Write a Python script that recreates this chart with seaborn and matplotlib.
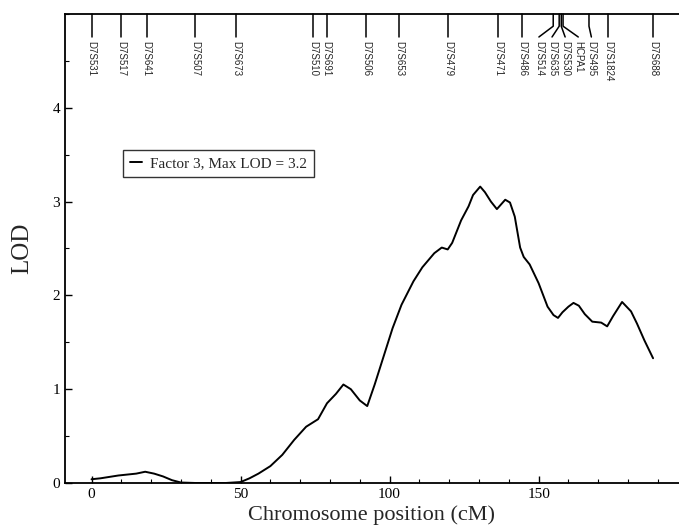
import numpy as np
import pandas as pd
import matplotlib
matplotlib.use("Agg")
import matplotlib.pyplot as plt
import matplotlib.transforms as mtransforms
from matplotlib.ticker import MultipleLocator
import seaborn as sns

# LOD curve
position_cm = [0, 3, 6, 9, 12, 15, 18, 21, 24, 27, 30, 35, 40, 45, 50, 53, 56, 60,
               64, 68, 72, 76, 79, 82, 84.5, 87, 90, 92.5, 95, 98, 101, 104, 108,
               111, 115, 117.5, 119.5, 121, 124, 126.5, 128, 130.4, 132, 134, 136,
               138.8, 140.4, 142, 143.8, 145, 147, 150, 153, 155, 156.5, 158, 160,
               161.7, 163.5, 165.5, 168, 171, 173, 175, 178, 181, 183, 185.5, 188.4]
lod = [0.04, 0.05, 0.065, 0.08, 0.09, 0.10, 0.12, 0.10, 0.07, 0.03, 0.005, 0, 0, 0,
       0.01, 0.05, 0.10, 0.18, 0.30, 0.46, 0.60, 0.68, 0.85, 0.95, 1.05, 1.00, 0.88,
       0.82, 1.05, 1.35, 1.65, 1.90, 2.15, 2.30, 2.45, 2.51, 2.49, 2.56, 2.80, 2.95,
       3.07, 3.16, 3.10, 3.00, 2.92, 3.02, 2.99, 2.84, 2.51, 2.41, 2.33, 2.13, 1.88,
       1.79, 1.76, 1.82, 1.88, 1.92, 1.89, 1.80, 1.72, 1.71, 1.67, 1.78, 1.93, 1.83,
       1.70, 1.52, 1.33]

# marker map along the top
marker_names = ["D7S531", "D7S517", "D7S641", "D7S507", "D7S673", "D7S510",
                "D7S691", "D7S506", "D7S653", "D7S479", "D7S471", "D7S486",
                "D7S514", "D7S635", "D7S530", "HCPA1", "D7S495", "D7S1824", "D7S688"]
marker_cm = [0, 9.9, 18.5, 34.7, 48.4, 74.3, 78.9, 92.1, 103.2, 119.6, 136.4,
             144.5, 154.9, 156.9, 157.6, 158.2, 166.9, 173.3, 188.4]

legend_label = "Factor 3, Max LOD = 3.2"

df = pd.DataFrame({"pos": position_cm, "lod": lod})

sns.set_theme(style="ticks")
plt.rcParams["font.family"] = ["Liberation Serif", "DejaVu Serif"]

fig = plt.figure(figsize=(6.79, 5.30), dpi=100)
ax = fig.add_axes([65 / 679, 47 / 530, 614 / 679, 469 / 530])

sns.lineplot(data=df, x="pos", y="lod", color="black", linewidth=1.4,
             label=legend_label, ax=ax)

ax.set_xlim(-8.9, 197.1)
ax.set_ylim(0, 5)
ax.set_xticks([0, 50, 100, 150])
ax.set_yticks([0, 1, 2, 3, 4])
ax.xaxis.set_minor_locator(MultipleLocator(10))
ax.yaxis.set_minor_locator(MultipleLocator(0.5))
ax.tick_params(which="both", direction="in", top=False, right=False,
               colors="black", labelsize=11)
ax.tick_params(which="major", length=5, width=1)
ax.tick_params(which="minor", length=3, width=0.8)
for s in ["left", "bottom", "top"]:
    ax.spines[s].set_color("black")
    ax.spines[s].set_linewidth(1.3)
ax.spines["right"].set_visible(False)

ax.set_xlabel("Chromosome position (cM)", fontsize=16, labelpad=3)
ax.set_ylabel("LOD", fontsize=18, labelpad=14)

leg = ax.legend(loc="upper left", bbox_to_anchor=(0.082, 0.727), frameon=True,
                fancybox=False, edgecolor="black", fontsize=11, handlelength=0.8,
                handletextpad=0.5, borderpad=0.45)
leg.get_frame().set_linewidth(1.0)

# spread crowded marker labels apart
gap = 4.4
label_cm = list(marker_cm)
for _ in range(300):
    for i in range(len(label_cm) - 1):
        d = label_cm[i + 1] - label_cm[i]
        if d < gap:
            shift = (gap - d) / 2
            label_cm[i] -= shift
            label_cm[i + 1] += shift

trans = mtransforms.blended_transform_factory(ax.transData, ax.transAxes)
for name, x, lx in zip(marker_names, marker_cm, label_cm):
    ax.plot([x, x, lx], [1.0, 0.974, 0.951], color="black", linewidth=1.1,
            transform=trans, clip_on=False)
    ax.text(lx, 0.942, name, rotation=270, ha="center", va="top", fontsize=7,
            family=["Liberation Sans", "DejaVu Sans"], transform=trans)

fig.savefig("out.png", dpi=100)
